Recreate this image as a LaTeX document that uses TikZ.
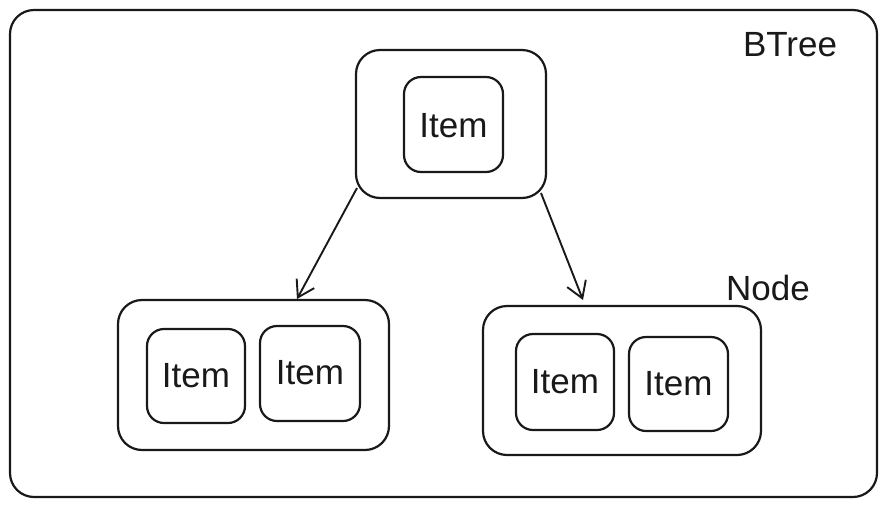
\documentclass[tikz,border=0pt]{standalone}
\usepackage{fontspec}
\setmainfont{Liberation Sans}
\usetikzlibrary{arrows.meta}
\begin{document}
\begin{tikzpicture}[x=1pt,y=-1pt,
  box/.style={draw=black!90,line width=2.2pt,rounded corners=24pt},
  itembox/.style={draw=black!90,line width=2.2pt,rounded corners=17pt},
  lbl/.style={font=\fontsize{35}{37}\selectfont,text=black!90},
  link/.style={draw=black!90,line width=1.9pt,-{Straight Barb[length=16pt,width=20pt,line width=1.9pt]}}]
\useasboundingbox (0,0) rectangle (887,507);
% outer tree frame
\draw[box] (10,10) rectangle (877,497);
\node[lbl] (title) at (790,45) {BTree};
% root node
\draw[box] (356,50) rectangle (546,198);
\coordinate (rootL) at (357,188);
\coordinate (rootR) at (541,193);
\draw[itembox] (404,77) rectangle (503,172);
\node[lbl] (i0) at (453.5,126) {Item};
% left child
\draw[box] (118,300) rectangle (389,450);
\coordinate (leftT) at (297,299);
\draw[itembox] (147,329) rectangle (245,423);
\node[lbl] (i1) at (196,376) {Item};
\draw[itembox] (260,326) rectangle (360,421);
\node[lbl] (i2) at (310,373) {Item};
% right child
\draw[box] (483,306) rectangle (761,455);
\coordinate (rightT) at (583,300);
\node[lbl] (nodelbl) at (768,288) {Node};
\draw[itembox] (516,334) rectangle (614,430);
\node[lbl] (i3) at (565,382) {Item};
\draw[itembox] (629,337) rectangle (728,431);
\node[lbl] (i4) at (678.5,384) {Item};
% links
\draw[link] (rootL) -- (leftT);
\draw[link] (rootR) -- (rightT);
\end{tikzpicture}
\end{document}
